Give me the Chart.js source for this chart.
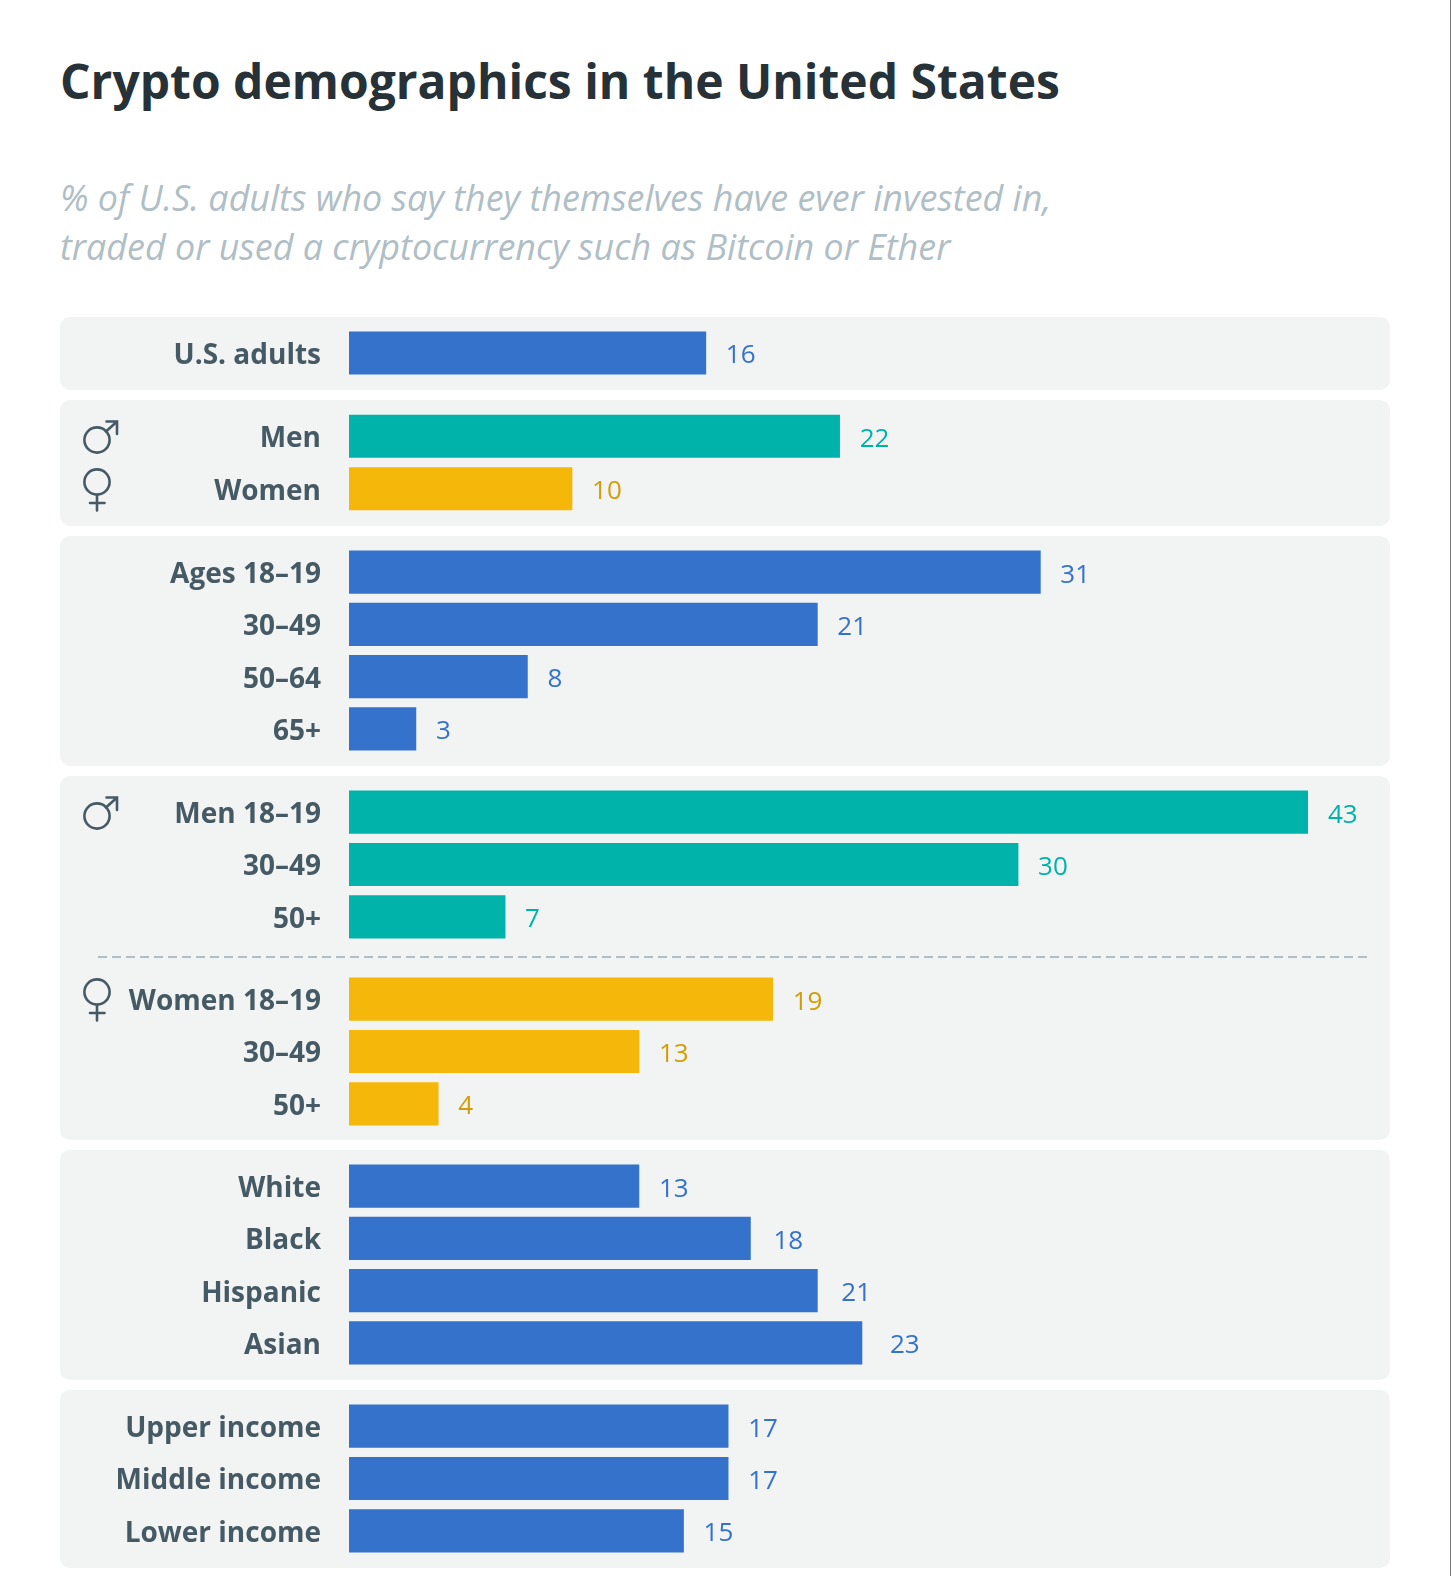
<!DOCTYPE html>
<html>
<head>
<meta charset="utf-8">
<script src="https://cdn.jsdelivr.net/npm/chart.js@4"></script>
<style>
  html, body { margin: 0; padding: 0; background: #fff; }
  body { width: 1450px; height: 1576px; position: relative; overflow: hidden; border-right: 1px solid #777; font-family: "Open Sans", sans-serif; }
  h1 { position: absolute; left: 60px; top: 48px; margin: 0; font-size: 48px; line-height: 66px; font-weight: 700; color: #263238; white-space: nowrap; }
  h2 { position: absolute; left: 60px; top: 173px; margin: 0; font-size: 35.9px; line-height: 49px; font-weight: 400; font-style: italic; color: #b0bec5; white-space: nowrap; }
  .panel { position: absolute; left: 60px; width: 1330px; background: #f2f3f3; border-radius: 10px; }
  .panel canvas { position: absolute; left: 0; }
  .icon { position: absolute; left: 0; top: 0; width: 70px; height: 60px; fill: none; stroke: #455a64; stroke-width: 2.6; stroke-linecap: round; }
  .dash { position: absolute; left: 38px; width: 1272px; height: 2px; background: repeating-linear-gradient(90deg, #b0bec5 0 9px, transparent 9px 14px); }
</style>
</head>
<body>
<h1>Crypto demographics in the United States</h1>
<h2>% of U.S. adults who say they themselves have ever invested in,<br>traded or used a cryptocurrency such as Bitcoin or Ether</h2>

<div class="panel" style="top:317px;height:73px"><canvas id="overall"></canvas></div>
<div class="panel" style="top:400px;height:126px">
  <svg class="icon" style="top:10px"><use href="#maleIcon"/></svg>
  <svg class="icon" style="top:60px"><use href="#femaleIcon"/></svg>
  <canvas id="gender"></canvas>
</div>
<div class="panel" style="top:536px;height:230px"><canvas id="age"></canvas></div>
<div class="panel" style="top:776px;height:364px">
  <svg class="icon" style="top:10px"><use href="#maleIcon"/></svg>
  <canvas id="menAge"></canvas>
  <div class="dash" style="top:180px"></div>
  <svg class="icon" style="top:194px"><use href="#femaleIcon"/></svg>
  <canvas id="womenAge"></canvas>
</div>
<div class="panel" style="top:1150px;height:230px"><canvas id="race"></canvas></div>
<div class="panel" style="top:1390px;height:178px"><canvas id="income"></canvas></div>

<svg width="0" height="0" style="position:absolute">
  <defs>
    <g id="maleIcon">
      <circle cx="37" cy="30" r="12.6"/>
      <path d="M46 21.5 L57 11.5 M46.5 11.5 H57 V24"/>
    </g>
    <g id="femaleIcon">
      <circle cx="37" cy="22" r="12.6"/>
      <path d="M37 35 V50.5 M30 43 H44.5"/>
    </g>
  </defs>
</svg>

<script>
const overallLabels = ["U.S. adults"];
const overallValues = [16];
const genderLabels = ["Men", "Women"];
const genderValues = [22, 10];
const ageLabels = ["Ages 18–19", "30–49", "50–64", "65+"];
const ageValues = [31, 21, 8, 3];
const menAgeLabels = ["Men 18–19", "30–49", "50+"];
const menAgeValues = [43, 30, 7];
const womenAgeLabels = ["Women 18–19", "30–49", "50+"];
const womenAgeValues = [19, 13, 4];
const raceLabels = ["White", "Black", "Hispanic", "Asian"];
const raceValues = [13, 18, 21, 23];
const incomeLabels = ["Upper income", "Middle income", "Lower income"];
const incomeValues = [17, 17, 15];

const BLUE = "#3472cb";
const TEAL = "#00b3aa";
const AMBER = "#f5b70a";
const AMBER_TEXT = "#d29e08";
const ROW = 52.3;

const valueLabels = {
  id: "valueLabels",
  afterDatasetsDraw(chart) {
    const { ctx } = chart;
    const ds = chart.data.datasets[0];
    ctx.save();
    ctx.font = '400 26px "Open Sans"';
    ctx.textAlign = "left";
    ctx.textBaseline = "middle";
    chart.getDatasetMeta(0).data.forEach((bar, i) => {
      ctx.fillStyle = ds.textColors[i];
      // the source nudges a few labels further out by hand
      ctx.fillText(ds.data[i], bar.x + 20 + (ds.nudge ? ds.nudge[i] : 0), bar.y + 3);
    });
    ctx.restore();
  },
};

function drawPanel(id, labels, values, colors, textColors, top, nudge) {
  const canvas = document.getElementById(id);
  canvas.width = 1330;
  canvas.height = Math.round(labels.length * ROW);
  canvas.style.top = top + "px";
  return new Chart(canvas, {
    type: "bar",
    plugins: [valueLabels],
    data: {
      labels: labels,
      datasets: [
        {
          data: values,
          backgroundColor: colors,
          textColors: textColors,
          nudge: nudge,
          barThickness: 42.5,
        },
      ],
    },
    options: {
      indexAxis: "y",
      responsive: false,
      animation: false,
      devicePixelRatio: 1,
      layout: { padding: { right: 82 } },
      plugins: { legend: { display: false }, tooltip: { enabled: false } },
      scales: {
        x: { display: false, min: 0, max: 43 },
        y: {
          grid: { display: false, drawTicks: false },
          border: { display: false },
          // fixed gutter, and no room kept above and below for the tick text
          afterFit: (scale) => {
            scale.width = 289;
            scale.paddingTop = 0;
            scale.paddingBottom = 0;
          },
          ticks: {
            padding: 28,
            labelOffset: 3,
            color: "#455a64",
            font: { family: '"Open Sans"', size: 28, weight: "700" },
          },
        },
      },
    },
  });
}

document.addEventListener("DOMContentLoaded", () => {
  const same = (c, n) => new Array(n).fill(c);
  drawPanel("overall", overallLabels, overallValues, same(BLUE, 1), same(BLUE, 1), 10);
  drawPanel("gender", genderLabels, genderValues, [TEAL, AMBER], [TEAL, AMBER_TEXT], 10);
  drawPanel("age", ageLabels, ageValues, same(BLUE, 4), same(BLUE, 4), 10);
  drawPanel("menAge", menAgeLabels, menAgeValues, same(TEAL, 3), same(TEAL, 3), 10);
  drawPanel("womenAge", womenAgeLabels, womenAgeValues, same(AMBER, 3), same(AMBER_TEXT, 3), 197);
  drawPanel("race", raceLabels, raceValues, same(BLUE, 4), same(BLUE, 4), 10, [0, 3, 4, 8]);
  drawPanel("income", incomeLabels, incomeValues, same(BLUE, 3), same(BLUE, 3), 10);
});
</script>
</body>
</html>
